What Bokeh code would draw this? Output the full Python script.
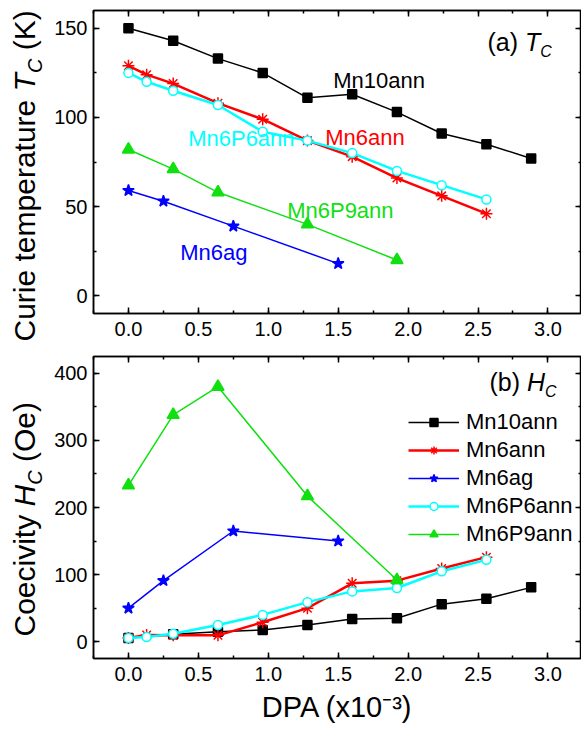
import math
from bokeh.plotting import figure
from bokeh.models import (Range1d, LinearAxis, Label, Legend, LegendItem,
                          SingleIntervalTicker, NumeralTickFormatter, CustomJSTickFormatter)
from bokeh.layouts import column, row
from bokeh.embed import file_html
from bokeh.resources import INLINE
from bokeh.core.properties import value

FONT = "Liberation Sans"

# ---------------- data (DPA in units of 1e-3) ----------------
dpa_mn10ann = [0, 0.32, 0.64, 0.96, 1.28, 1.6, 1.92, 2.24, 2.56, 2.88]
tc_mn10ann = [150, 143, 133, 125, 111, 113, 103, 91, 85, 77]
hc_mn10ann = [5.5, 11, 15, 17.5, 25, 34, 35, 56, 64, 81]

dpa_mn6ann = [0, 0.13, 0.32, 0.64, 0.96, 1.28, 1.6, 1.92, 2.24, 2.56]
tc_mn6ann = [129, 124, 119, 108, 99, 87, 78, 66, 56, 46]
hc_mn6ann = [5.5, 10, 9.5, 9.5, 29, 50, 87, 91, 109, 126]

dpa_mn6ag = [0, 0.25, 0.75, 1.5]
tc_mn6ag = [59, 53, 39, 18]
hc_mn6ag = [50, 91, 165, 150]

dpa_mn6p6ann = [0, 0.13, 0.32, 0.64, 0.96, 1.28, 1.6, 1.92, 2.24, 2.56]
tc_mn6p6ann = [125, 120, 115, 107, 92, 87, 80, 70, 62, 54]
hc_mn6p6ann = [5.5, 7, 12, 25, 40, 59, 75, 80, 105, 122]

dpa_mn6p9ann = [0, 0.32, 0.64, 1.28, 1.92]
tc_mn6p9ann = [82, 71, 58, 40, 20]
hc_mn6p9ann = [233, 338, 380, 217, 92]

series_names = ["Mn10ann", "Mn6ann", "Mn6ag", "Mn6P6ann", "Mn6P9ann"]

# ---------------- styles ----------------
GREEN = "#10E010"
CYAN = "#00FFFF"
styles = {
    "Mn10ann": dict(color="black", lw=1.5, marker="square", size=9, fill="black"),
    "Mn6ann": dict(color="red", lw=2.5, marker="asterisk", size=12, fill="red"),
    "Mn6ag": dict(color="blue", lw=1.5, marker="star", size=12, fill="blue"),
    "Mn6P6ann": dict(color=CYAN, lw=2.5, marker="circle", size=9, fill="white"),
    "Mn6P9ann": dict(color=GREEN, lw=1.5, marker="triangle", size=12, fill=GREEN),
}
xs = [dpa_mn10ann, dpa_mn6ann, dpa_mn6ag, dpa_mn6p6ann, dpa_mn6p9ann]
tcs = [tc_mn10ann, tc_mn6ann, tc_mn6ag, tc_mn6p6ann, tc_mn6p9ann]
hcs = [hc_mn10ann, hc_mn6ann, hc_mn6ag, hc_mn6p6ann, hc_mn6p9ann]

# Arial / Liberation Sans advance widths (1/1000 em)
AW = {' ': 278, '(': 333, ')': 333, '-': 333, '0': 556, '1': 556, '3': 556,
      'A': 667, 'C': 722, 'D': 722, 'H': 722, 'K': 667, 'O': 778, 'P': 667, 'T': 611,
      'a': 556, 'b': 556, 'c': 500, 'e': 556, 'i': 222, 'm': 833, 'p': 556, 'r': 333,
      't': 278, 'u': 556, 'v': 500, 'x': 500, 'y': 500}

BASE_CORR = 0.32  # empirical shift of the label anchor relative to the glyph baseline


def tw(s, size):
    return sum(AW.get(ch, 556) for ch in s) / 1000.0 * size


def rich_label(p, pieces, x0, y0, vertical=False):
    """rich text as Labels in frame-relative screen units; (x0, y0) is the
    start of the baseline; leading spaces are turned into offsets."""
    pos = 0.0
    for txt, size, style, dy in pieces:
        lead = len(txt) - len(txt.lstrip(" "))
        pos += tw(" " * lead, size)
        core = txt.strip(" ")
        c = BASE_CORR * size
        if vertical:
            x, y, ang = x0 + dy - c, y0 + pos, math.pi / 2
        else:
            x, y, ang = x0 + pos, y0 - dy + c, 0
        p.add_layout(Label(text=core, x=x, y=y, angle=ang, x_units="screen", y_units="screen",
                           text_font=FONT, text_font_size=f"{size}px", text_font_style=style,
                           text_color="black", text_align="left", text_baseline="alphabetic"))
        pos += tw(txt.lstrip(" "), size)


def text_fig(w, h):
    p = figure(width=w, height=h, x_range=Range1d(0, w), y_range=Range1d(0, h),
               output_backend="svg", toolbar_location=None, x_axis_location=None,
               y_axis_location=None, min_border=0)
    p.grid.visible = False
    p.outline_line_color = None
    return p


def style_axis(ax, labels=True, standoff=8):
    ax.major_tick_in = 6
    ax.major_tick_out = 0
    ax.minor_tick_in = 3
    ax.minor_tick_out = 0
    ax.axis_line_width = 1.5
    ax.major_tick_line_width = 1.5
    ax.minor_tick_line_width = 1.5
    ax.axis_line_color = "black"
    ax.major_tick_line_color = "black"
    ax.minor_tick_line_color = "black"
    ax.major_label_text_font = FONT
    ax.major_label_text_color = "black"
    ax.major_label_standoff = standoff
    if labels:
        ax.major_label_text_font_size = "20px"
    else:
        ax.major_label_text_font_size = "1px"
        ax.major_label_standoff = 0


W_MAIN = 533
H_TOTAL = 730


def make_fig(yr, yint, height, bt, bb):
    p = figure(width=W_MAIN, height=height, x_range=Range1d(-0.25, 3.24), y_range=Range1d(*yr),
               output_backend="svg", toolbar_location=None,
               min_border_left=45, min_border_right=0, min_border_top=bt, min_border_bottom=bb)
    p.grid.visible = False
    p.outline_line_color = "black"
    p.outline_line_width = 1.5
    xt = SingleIntervalTicker(interval=0.5, num_minor_ticks=2)
    yt = SingleIntervalTicker(interval=yint, num_minor_ticks=2)
    bottom_ax = p.below[0]
    left_ax = p.left[0]
    bottom_ax.ticker = xt
    left_ax.ticker = yt
    bottom_ax.formatter = NumeralTickFormatter(format="0.0")
    left_ax.formatter = NumeralTickFormatter(format="0")
    style_axis(bottom_ax, True, 8)
    style_axis(left_ax, True, 6)
    empty = CustomJSTickFormatter(code="return ''")
    top = LinearAxis(ticker=xt, formatter=empty)
    right = LinearAxis(ticker=yt, formatter=empty)
    style_axis(top, False)
    style_axis(right, False)
    p.add_layout(top, "above")
    p.add_layout(right, "right")
    return p


def draw(p, ys):
    items = []
    for name, x, y in zip(series_names, xs, ys):
        st = styles[name]
        r1 = p.line(x, y, line_color=st["color"], line_width=st["lw"])
        r2 = p.scatter(x, y, marker=st["marker"], size=st["size"], line_color=st["color"],
                       fill_color=st["fill"], line_width=1.5)
        items.append(LegendItem(label=name, renderers=[r1, r2]))
    return items


# ---------------- panel (a) ----------------
p1 = make_fig((-10, 160), 50, 345, 10, 32)
draw(p1, tcs)

annot_text = ["Mn10ann", "Mn6P6ann", "Mn6ann", "Mn6P9ann", "Mn6ag"]
annot_x = [1.464, 0.427, 1.407, 1.135, 0.37]
annot_y = [120.9, 88.2, 88.8, 47.7, 24.0]
annot_col = ["black", CYAN, "red", GREEN, "blue"]
p1.text(annot_x, annot_y, text=annot_text, text_color=annot_col, text_font=value(FONT),
        text_font_size="22px", text_baseline="middle", text_align="left")

rich_label(p1, [("(a) ", 25, "normal", 0), ("T", 25, "italic", 0), ("C", 16, "italic", 7)], 394, 264)

# ---------------- panel (b) ----------------
p2 = make_fig((-25, 425), 100, H_TOTAL - 345, 11, 72)
items = draw(p2, hcs)
legend = Legend(items=items, location=(315, 111), label_text_font=FONT,
                label_text_font_size="22px", label_text_color="black",
                glyph_width=51, glyph_height=20,
                label_height=20, spacing=2, padding=0, margin=0, label_standoff=7,
                border_line_alpha=0, background_fill_alpha=0)
p2.add_layout(legend)

rich_label(p2, [("(b) ", 25, "normal", 0), ("H", 25, "italic", 0), ("C", 16, "italic", 7)], 396, 269)

xlab_ax = p2.below[0]
xlab_ax.axis_label = "DPA (x10\u207b\u00b3)"
xlab_ax.axis_label_text_font = FONT
xlab_ax.axis_label_text_font_size = "29px"
xlab_ax.axis_label_text_font_style = "normal"
xlab_ax.axis_label_text_color = "black"
xlab_ax.axis_label_standoff = 7

# ---------------- y axis titles (text panel) ----------------
tL = text_fig(48, H_TOTAL)
rich_label(tL, [("Curie temperature ", 30, "normal", 0), ("T", 30, "italic", 0),
                ("C", 20, "italic", 7), (" (K)", 30, "normal", 0)], 34, H_TOTAL - 341, vertical=True)
rich_label(tL, [("Coecivity ", 30, "normal", 0), ("H", 30, "italic", 0),
                ("C", 20, "italic", 7), (" (Oe)", 30, "normal", 0)], 34, H_TOTAL - 636, vertical=True)

layout = row(tL, column(p1, p2, spacing=0), spacing=0)
open("out.html", "w").write(file_html(layout, INLINE))
